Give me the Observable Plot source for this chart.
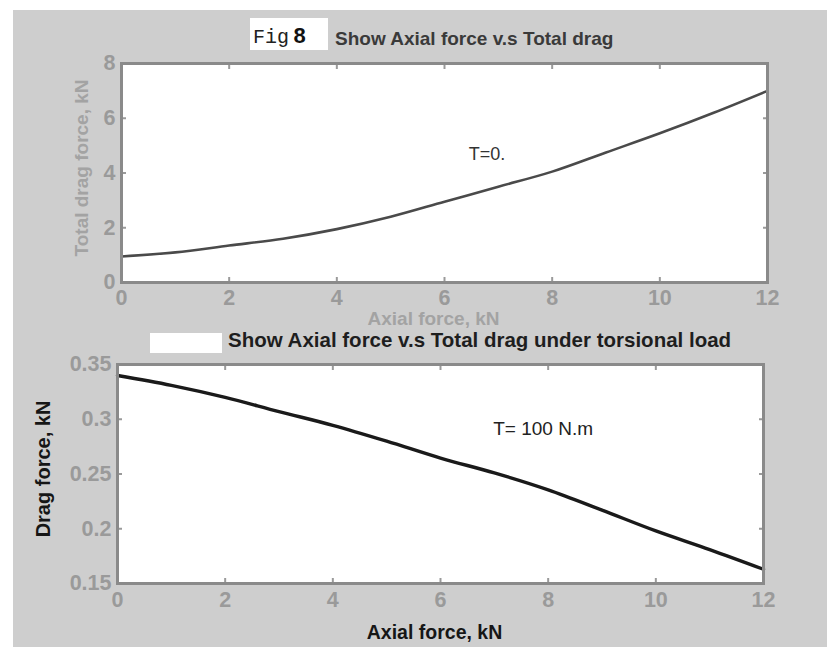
<!DOCTYPE html>
<html>
<head>
<meta charset="utf-8">
<script src="https://cdn.jsdelivr.net/npm/d3@7"></script>
<script src="https://cdn.jsdelivr.net/npm/@observablehq/plot@0.6"></script>
<style>
  html, body { margin: 0; padding: 0; background: #fff; }
  #page { position: relative; width: 827px; height: 650px; overflow: hidden; background: #fff;
          font-family: "Liberation Sans", Arial, sans-serif; }
  #sheet { position: absolute; left: 13px; top: 10px; right: 0; bottom: 3px; background: #cecece; }
  .chart { position: absolute; left: 0; }
  .chart svg { overflow: visible; }
  .box { position: absolute; background: #fff; }
  .title { position: absolute; white-space: nowrap; font-weight: bold; }
</style>
</head>
<body>
<div id="page">
  <div id="sheet"></div>
  <div id="top" class="chart" style="top:0px"></div>
  <div id="bottom" class="chart" style="top:320px"></div>

  <div class="box" style="left:250px;top:18px;width:78px;height:32px;"></div>
  <div class="title" style="left:253px;top:26px;line-height:20px;">
    <span style="font-family:'Liberation Mono','Courier New',monospace;font-weight:normal;font-size:20px;color:#222;">Fig</span>
    <span style="font-size:22px;color:#111;">8</span>
  </div>
  <div class="title" id="title1" style="left:335px;top:29px;line-height:20px;font-size:19px;color:#3a3a3a;"></div>

  <div class="box" style="left:150px;top:333px;width:72px;height:20px;"></div>
  <div class="title" id="title2" style="left:228px;top:332px;line-height:16px;font-size:20.5px;color:#1e1e1e;"></div>
</div>

<script>
// Axial force values (kN) at which both curves are sampled
const axialForce = [0, 1, 2, 3, 4, 5, 6, 7, 8, 9, 10, 11, 12];
// Total drag force (kN) with no torque, T = 0
const dragNoTorque = [0.95, 1.1, 1.35, 1.6, 1.95, 2.4, 2.95, 3.5, 4.05, 4.75, 5.45, 6.2, 7.0];
// Drag force (kN) under torsional load, T = 100 N.m
const dragTorque100 = [0.340, 0.331, 0.320, 0.307, 0.2945, 0.280, 0.2645, 0.251, 0.2355, 0.217, 0.198, 0.181, 0.163];

// Tick values
const xTicks = [0, 2, 4, 6, 8, 10, 12];
const yTicksTop = [0, 2, 4, 6, 8];
const yTicksBottom = [0.15, 0.2, 0.25, 0.3, 0.35];

// Text
const title1 = "Show Axial force v.s Total drag";
const title2 = "Show Axial force v.s Total drag under torsional load";
const xLabel = "Axial force, kN";
const yLabelTop = "Total drag force, kN";
const yLabelBottom = "Drag force, kN";
const noteTop = "T=0.";
const noteBottom = "T= 100 N.m";

document.getElementById("title1").textContent = title1;
document.getElementById("title2").textContent = title2;

const font = "'Liberation Sans', Arial, sans-serif";
const seriesTop = axialForce.map((f, i) => ({force: f, drag: dragNoTorque[i]}));
const seriesBottom = axialForce.map((f, i) => ({force: f, drag: dragTorque100[i]}));

// MATLAB-style boxed axes: inward ticks on all four sides
function boxAxes(yTicks, xPadding) {
  const common = {tickSize: -5, strokeWidth: 2, label: null};
  const plain = d => String(d);
  return [
    Plot.axisX({...common, anchor: "bottom", ticks: xTicks, tickFormat: plain, tickPadding: xPadding, fontSize: 21.5, fontWeight: "bold"}),
    Plot.axisX({...common, anchor: "top", ticks: xTicks, tickFormat: () => ""}),
    Plot.axisY({...common, anchor: "left", ticks: yTicks, tickFormat: plain, tickPadding: 11, fontSize: 21.5, fontWeight: "bold"}),
    Plot.axisY({...common, anchor: "right", ticks: yTicks, tickFormat: () => ""})
  ];
}

const topChart = Plot.plot({
  width: 827,
  height: 330,
  marginLeft: 121,
  marginRight: 60,
  marginTop: 63,
  marginBottom: 48,
  x: {domain: [0, 12], axis: null},
  y: {domain: [0, 8], axis: null},
  style: {background: "transparent", color: "#9a9a9a", fontFamily: font},
  marks: [
    Plot.frame({fill: "white"}),
    Plot.line(seriesTop, {x: "force", y: "drag", stroke: "#4a4a4a", strokeWidth: 2.6, curve: "monotone-x"}),
    Plot.text([noteTop], {x: 6.45, y: 4.7, text: d => d, textAnchor: "start", fill: "#333", fontSize: 18}),
    ...boxAxes(yTicksTop, 12),
    Plot.frame({stroke: "#8a8a8a", strokeWidth: 3}),
    Plot.text([xLabel], {frameAnchor: "bottom", text: d => d, textAnchor: "middle", lineAnchor: "middle", dx: -11, dy: 36.5, fill: "#a3a3a3", fontSize: 19, fontWeight: "bold"}),
    Plot.text([yLabelTop], {frameAnchor: "left", text: d => d, textAnchor: "middle", lineAnchor: "middle", rotate: -90, dx: -40, dy: -5, fill: "#a3a3a3", fontSize: 19, fontWeight: "bold"})
  ]
});
document.getElementById("top").append(topChart);

const bottomChart = Plot.plot({
  width: 827,
  height: 330,
  marginLeft: 117,
  marginRight: 64,
  marginTop: 44,
  marginBottom: 67,
  x: {domain: [0, 12], axis: null},
  y: {domain: [0.15, 0.35], axis: null},
  style: {background: "transparent", color: "#9a9a9a", fontFamily: font},
  marks: [
    Plot.frame({fill: "white"}),
    Plot.line(seriesBottom, {x: "force", y: "drag", stroke: "#1a1a1a", strokeWidth: 3.4, curve: "monotone-x"}),
    Plot.text([noteBottom], {x: 6.98, y: 0.2916, text: d => d, textAnchor: "start", fill: "#222", fontSize: 19}),
    ...boxAxes(yTicksBottom, 13),
    Plot.frame({stroke: "#8a8a8a", strokeWidth: 3}),
    Plot.text([xLabel], {frameAnchor: "bottom", text: d => d, textAnchor: "middle", lineAnchor: "middle", dx: -6, dy: 49, fill: "#161616", fontSize: 19.5, fontWeight: "bold"}),
    Plot.text([yLabelBottom], {frameAnchor: "left", text: d => d, textAnchor: "middle", lineAnchor: "middle", rotate: -90, dx: -74, dy: -5, fill: "#161616", fontSize: 20, fontWeight: "bold"})
  ]
});
document.getElementById("bottom").append(bottomChart);
</script>
</body>
</html>
